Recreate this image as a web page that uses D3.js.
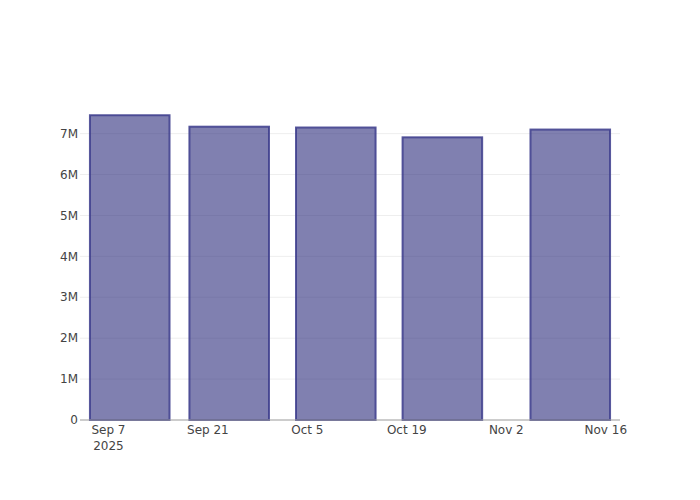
<!DOCTYPE html>
<html>
<head>
<meta charset="utf-8">
<script src="https://cdn.jsdelivr.net/npm/d3@7"></script>
<style>
  body { margin: 0; background: #fff; }
  text { font-family: "DejaVu Sans", verdana, arial, sans-serif; fill: #444; }
</style>
</head>
<body>
<div id="chart"></div>
<script>
// chart data
const dates = ["2025-09-10", "2025-09-24", "2025-10-09", "2025-10-24", "2025-11-11"];
const values = [7450000, 7170000, 7150000, 6910000, 7100000];
const tickDates = ["2025-09-07", "2025-09-21", "2025-10-05", "2025-10-19", "2025-11-02", "2025-11-16"];
const yTicks = [0, 1000000, 2000000, 3000000, 4000000, 5000000, 6000000, 7000000];

const width = 700, height = 500;
const margin = {top: 100, right: 80, bottom: 80, left: 80};
const parse = d3.utcParse("%Y-%m-%d");

let data = dates.map(function(d, i) { return {date: parse(d), value: values[i]}; });

let svg = d3.select("#chart")
    .append("svg")
    .attr("width", width)
    .attr("height", height);

let g = svg.append("g")
    .attr("transform", `translate(${margin.left}, ${margin.top})`);

let plotW = width - margin.left - margin.right;
let plotH = height - margin.top - margin.bottom;

// smallest gap between bars sets the slot width (like plotly)
let gaps = d3.pairs(data).map(function(p) { return p[1].date - p[0].date; });
let slot = d3.min(gaps);

let x = d3.scaleUtc()
    .domain([new Date(+data[0].date - slot / 2), new Date(+data[data.length - 1].date + slot / 2)])
    .range([0, plotW]);

let y = d3.scaleLinear()
    .domain([0, d3.max(values) * 1.05])
    .range([plotH, 0]);

// gridlines
g.append("g")
    .selectAll("line")
    .data(yTicks.filter(function(d) { return d > 0; }))
    .enter()
    .append("line")
    .attr("x1", 0)
    .attr("x2", plotW)
    .attr("y1", function(d) { return y(d); })
    .attr("y2", function(d) { return y(d); })
    .attr("stroke", "#eeeeee")
    .attr("stroke-width", 1);

// bars
let barW = x(new Date(+data[0].date + slot * 0.8)) - x(data[0].date);
g.append("g")
    .selectAll("rect")
    .data(data)
    .enter()
    .append("rect")
    .attr("x", function(d) { return x(d.date) - barW / 2; })
    .attr("y", function(d) { return y(d.value); })
    .attr("width", barW)
    .attr("height", function(d) { return plotH - y(d.value); })
    .attr("fill", "rgba(44,44,124,0.6)")
    .attr("stroke", "rgba(60,60,140,0.85)")
    .attr("stroke-width", 2);

// x axis line
g.append("line")
    .attr("x1", 0)
    .attr("x2", plotW)
    .attr("y1", plotH)
    .attr("y2", plotH)
    .attr("stroke", "#9a9a9a")
    .attr("stroke-width", 1);

// y tick labels
let fmtY = function(d) { return d === 0 ? "0" : (d / 1e6) + "M"; };
g.append("g")
    .selectAll("text")
    .data(yTicks)
    .enter()
    .append("text")
    .attr("x", -2)
    .attr("y", function(d) { return y(d); })
    .attr("dy", "0.35em")
    .style("text-anchor", "end")
    .style("font-size", "12px")
    .text(fmtY);

// x tick labels
let fmtX = d3.utcFormat("%b %-d");
let xt = g.append("g")
    .selectAll("text")
    .data(tickDates.map(parse))
    .enter()
    .append("text")
    .attr("x", function(d) { return x(d); })
    .attr("y", plotH + 14)
    .style("text-anchor", "middle")
    .style("font-size", "12px");

xt.append("tspan")
    .attr("x", function(d) { return x(d); })
    .text(fmtX);

xt.filter(function(d, i) { return i === 0; })
    .append("tspan")
    .attr("x", function(d) { return x(d); })
    .attr("dy", "16")
    .text(function(d) { return d3.utcFormat("%Y")(d); });
</script>
</body>
</html>
